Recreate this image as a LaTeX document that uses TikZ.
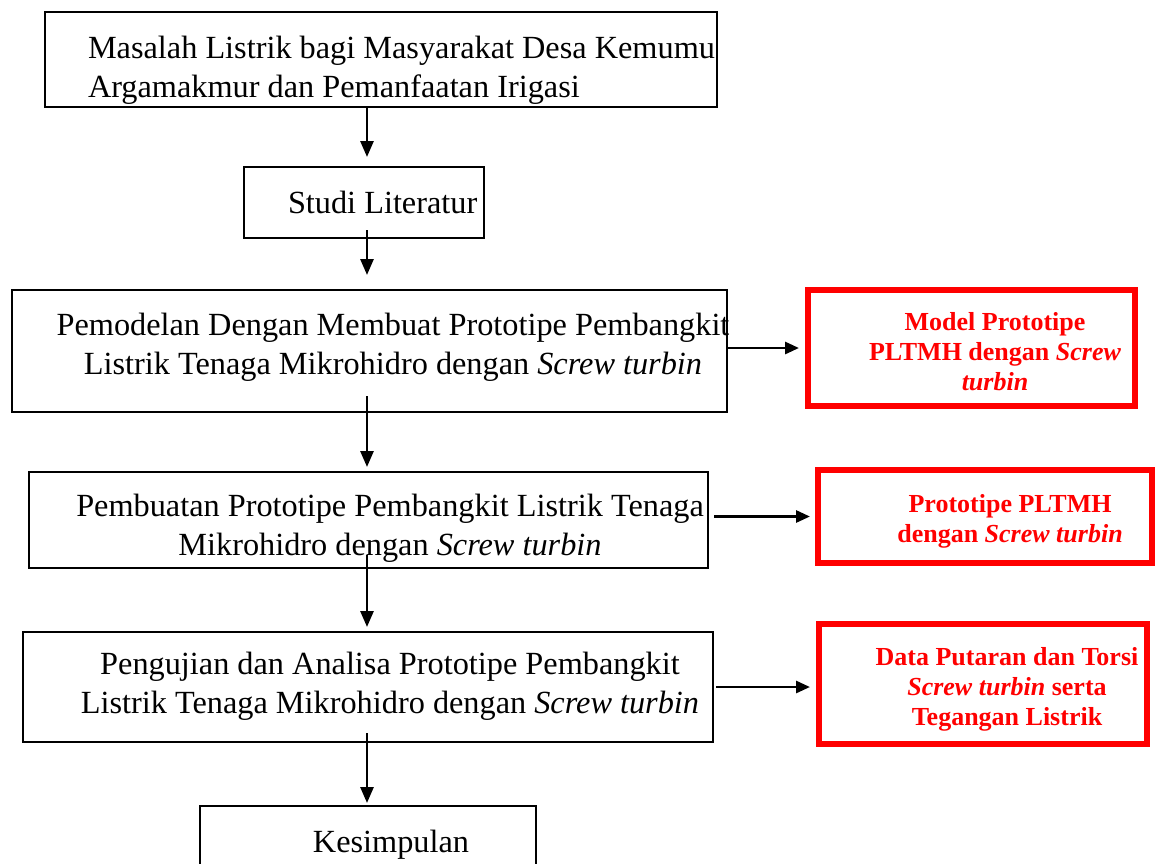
\documentclass[tikz,border=0pt]{standalone}
\usepackage{fontspec}
\setmainfont{Liberation Serif}
\usetikzlibrary{arrows.meta}
\definecolor{pured}{RGB}{255,0,0}
\tikzset{
  box/.style={draw=black, line width=1.8pt, rectangle, outer sep=0pt, inner sep=0pt},
  redbox/.style={draw=pured, line width=6pt, rectangle, outer sep=0pt, inner sep=0pt},
  txt/.style={inner sep=0pt, outer sep=0pt, font=\fontsize{32.3}{38.5}\selectfont},
  redtxt/.style={inner sep=0pt, outer sep=0pt, text=pured, align=center, font=\bfseries\fontsize{26}{30}\selectfont},
  arr/.style={draw=black, line width=2.8pt, -{Triangle[length=16pt,width=13pt]}},
  harr/.style={draw=black, line width=2.8pt, -{Triangle[length=14pt,width=12pt]}}
}
\begin{document}
\begin{tikzpicture}[x=1pt,y=-1pt]
\useasboundingbox (0,0) rectangle (1157,863);
% boxes
\node[box, minimum width=672pt, minimum height=95pt] (b1) at (381,59.5) {};
\node[box, minimum width=240pt, minimum height=71pt] (b2) at (364,202.5) {};
\node[box, minimum width=715pt, minimum height=122pt] (b3) at (369.5,351) {};
\node[box, minimum width=679pt, minimum height=96pt] (b4) at (368.5,520) {};
\node[box, minimum width=690pt, minimum height=110pt] (b5) at (368,687) {};
\node[box, minimum width=336pt, minimum height=94pt] (b6) at (368,853) {};
\node[redbox, minimum width=327pt, minimum height=116pt] (r1) at (971.5,348) {};
\node[redbox, minimum width=334pt, minimum height=93pt] (r2) at (985,516.5) {};
\node[redbox, minimum width=328pt, minimum height=120pt] (r3) at (983,684) {};
% texts (anchor = baseline of the last line)
\node[txt, align=left, anchor=base west] (t1) at (88,97) {Masalah Listrik bagi Masyarakat Desa Kemumu\\Argamakmur dan Pemanfaatan Irigasi};
\node[txt, anchor=base west] (t2) at (288,213) {Studi Literatur};
\node[txt, align=center, anchor=base] (t3) at (393,374) {Pemodelan Dengan Membuat Prototipe Pembangkit\\Listrik Tenaga Mikrohidro dengan \textit{Screw turbin}};
\node[txt, align=center, anchor=base] (t4) at (390,555) {Pembuatan Prototipe Pembangkit Listrik Tenaga\\Mikrohidro dengan \textit{Screw turbin}};
\node[txt, align=center, anchor=base] (t5) at (390,713) {Pengujian dan Analisa Prototipe Pembangkit\\Listrik Tenaga Mikrohidro dengan \textit{Screw turbin}};
\node[txt, anchor=base] (t6) at (391,852) {Kesimpulan};
\node[redtxt, anchor=base] (rt1) at (995,390) {Model Prototipe\\PLTMH dengan \textit{Screw}\\\textit{turbin}};
\node[redtxt, anchor=base] (rt2) at (1010,542) {Prototipe PLTMH\\dengan \textit{Screw turbin}};
\node[redtxt, anchor=base] (rt3) at (1007,725) {Data Putaran dan Torsi\\\textit{Screw turbin} serta\\Tegangan Listrik};
% connectors
\coordinate (spine) at (367,0);
\draw[arr, shorten >=10pt] (spine |- b1.south) -- (spine |- b2.north);
\draw[arr, shorten >=15pt] ([yshift=8pt]spine |- b2.south) -- (spine |- b3.north);
\draw[arr, shorten >=5pt] ([yshift=16pt]spine |- b3.south) -- (spine |- b4.north);
\draw[arr, shorten >=5pt] ([yshift=13pt]spine |- b4.south) -- (spine |- b5.north);
\draw[arr, shorten >=3pt] ([yshift=9pt]spine |- b5.south) -- (spine |- b6.north);
\draw[harr, shorten >=9pt] (b3.east |- r1.west) -- (r1.west);
\draw[harr, shorten <=6pt, shorten >=8pt] (b4.east |- r2.west) -- (r2.west);
\draw[harr, shorten <=3pt, shorten >=9pt] (b5.east) -- (r3.west |- b5.east);
\end{tikzpicture}
\end{document}
